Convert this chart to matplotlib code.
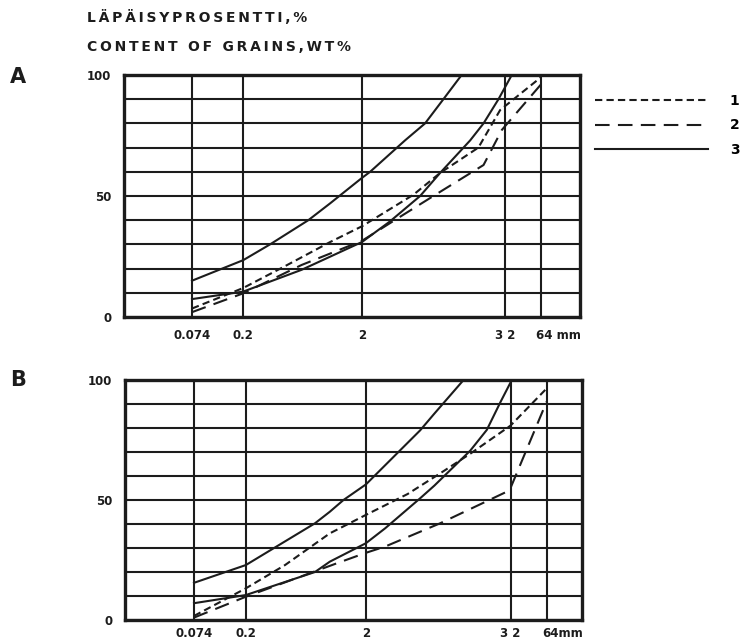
import matplotlib
matplotlib.use('Agg')
import matplotlib.pyplot as plt

# grain size (mm) and passing percentage
# curve 1 = short dashes, curve 2 = long dashes, curve 3 = solid envelope (two lines)
a1_mm = [0.074, 0.2, 0.449, 1.08, 2.0, 5.41, 9.08, 19.1, 29.1, 64]
a1_pct = [3.5, 12, 21, 31, 37.5, 50.5, 59.5, 70, 85.5, 99]
a2_mm = [0.074, 0.2, 0.62, 1.64, 2.0, 4.18, 7.98, 21.1, 30.1, 64]
a2_pct = [2, 9.8, 21.5, 29.8, 31.5, 41.4, 50, 62.8, 77.3, 96]
a3_upper_mm = [0.074, 0.2, 0.336, 0.706, 1.08, 2.0, 2.34, 4.61, 6.79, 9.69, 13.8]
a3_upper_pct = [15, 23.5, 30, 40, 47, 57.5, 60, 73, 80, 90, 100]
a3_lower_mm = [0.074, 0.2, 0.62, 2.0, 3.44, 6.17, 9.08, 16.3, 21.1, 28.2, 36.5]
a3_lower_pct = [7.4, 10.5, 19.5, 31, 39.5, 50, 59.5, 73, 80, 90, 100]

b1_mm = [0.074, 0.2, 0.424, 1.0, 2.0, 4.45, 8.30, 14.8, 32, 64]
b1_pct = [1.7, 13.2, 22.9, 36.1, 43.8, 52.5, 61.1, 69.3, 81, 96.5]
b2_mm = [0.074, 0.2, 0.803, 1.14, 2.0, 2.89, 8.30, 29.9, 32, 64]
b2_pct = [1, 9.7, 20.8, 23.6, 28, 30.6, 40.3, 53.5, 55, 91]
b3_upper_mm = [0.074, 0.2, 0.753, 1.0, 1.30, 2.0, 5.65, 7.43, 13]
b3_upper_pct = [15.5, 22.9, 40.3, 45.1, 50, 56.5, 79, 86, 100]
b3_lower_mm = [0.074, 0.2, 0.753, 1.0, 2.0, 2.89, 5.65, 7.43, 14.8, 20.3, 26.5, 32.8]
b3_lower_pct = [7, 10.4, 20, 24.3, 32, 38.2, 50.7, 56, 70.6, 79.2, 91, 100]

grid_mm = [0.074, 0.2, 2, 32, 64]
x_labels_a = ['0.074', '0.2', '2', '3 2', '64 mm']
x_labels_b = ['0.074', '0.2', '2', '3 2', '64mm']

INK = '#1c1c1c'
plt.rcParams['font.family'] = ['DejaVu Sans']
plt.rcParams['font.weight'] = 'bold'


def spaced(s, gap='\u2009'):
    # the printed headings are letter-spaced
    return gap.join(s)


fig = plt.figure(figsize=(7.41, 6.43), dpi=100)
ax_a = fig.add_axes([124/741, 1 - 317/643, 456/741, 242/643])
ax_b = fig.add_axes([125/741, 1 - 620/643, 457/741, 240/643])


def setup(ax, xlim, labels, label_y):
    ax.set_xscale('log')
    ax.set_xlim(*xlim)
    ax.set_ylim(0, 100)
    ax.set_xticks(grid_mm)
    ax.set_xticklabels([])
    ax.minorticks_off()
    ax.set_yticks(range(0, 101, 10))
    ax.set_yticklabels(['0', '', '', '', '', '50', '', '', '', '', '100'])
    ax.tick_params(length=0, pad=9, labelsize=8.5, colors=INK)
    ax.grid(True, color=INK, linewidth=1.5)
    ax.set_axisbelow(True)
    for s in ax.spines.values():
        s.set_linewidth(2.4)
        s.set_color(INK)
    # size labels under the grid lines
    trans = ax.get_xaxis_transform()
    for x, lab in zip(grid_mm, labels):
        if 'mm' in lab:
            ax.text(x * 0.92, label_y, lab, transform=trans, ha='left', va='center',
                    fontsize=8.5, color=INK)
        else:
            ax.text(x, label_y, lab, transform=trans, ha='center', va='center',
                    fontsize=8.5, color=INK)


setup(ax_a, (0.0198, 137), x_labels_a, -0.078)
setup(ax_b, (0.0197, 126), x_labels_b, -0.058)

kw = dict(color=INK, linewidth=1.5)
ax_a.plot(a1_mm, a1_pct, linestyle=(0, (3.5, 2)), label='1', **kw)
ax_a.plot(a2_mm, a2_pct, linestyle=(0, (7, 4)), label='2', **kw)
ax_a.plot(a3_upper_mm, a3_upper_pct, linestyle='-', label='3', **kw)
ax_a.plot(a3_lower_mm, a3_lower_pct, linestyle='-', **kw)

ax_b.plot(b1_mm, b1_pct, linestyle=(0, (3.5, 2)), **kw)
ax_b.plot(b2_mm, b2_pct, linestyle=(0, (7, 4)), **kw)
ax_b.plot(b3_upper_mm, b3_upper_pct, linestyle='-', **kw)
ax_b.plot(b3_lower_mm, b3_lower_pct, linestyle='-', **kw)

ax_a.legend(loc='upper left', bbox_to_anchor=(1.033, 0.923), frameon=False,
            borderpad=0, borderaxespad=0, handlelength=8.1, handletextpad=1.6,
            labelspacing=0.78, fontsize=10)

# headings and panel letters
fig.text(87/741, 1 - 18/643, spaced('LÄPÄISYPROSENTTI,%'), fontsize=10, color=INK,
         ha='left', va='center')
fig.text(87/741, 1 - 47/643, spaced('CONTENT OF GRAINS,WT%'), fontsize=10, color=INK,
         ha='left', va='center')
fig.text(18/741, 1 - 77/643, 'A', fontsize=15, color=INK, ha='center', va='center')
fig.text(18/741, 1 - 380/643, 'B', fontsize=15, color=INK, ha='center', va='center')

fig.savefig('out.png', dpi=100)
